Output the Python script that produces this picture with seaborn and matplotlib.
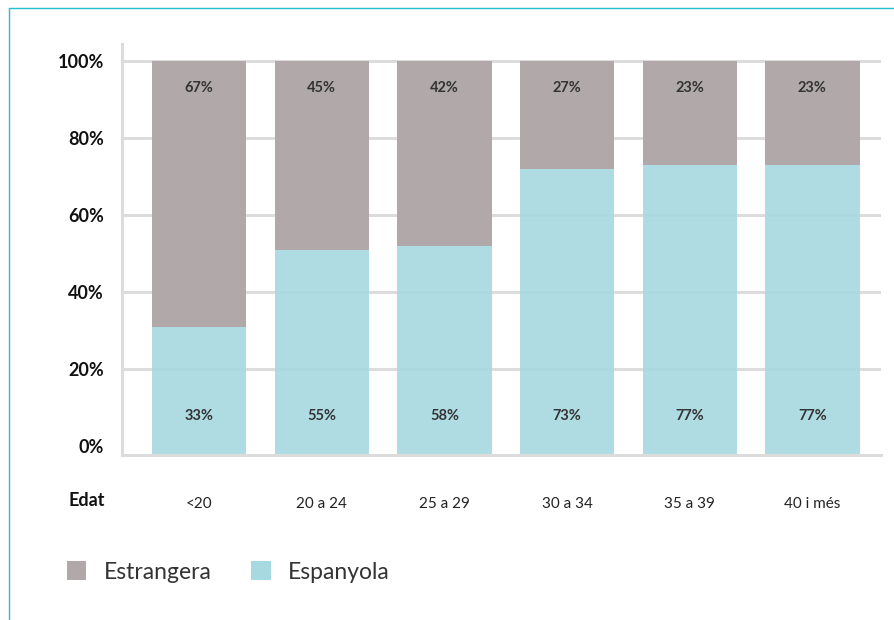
import matplotlib
matplotlib.use("Agg")
import matplotlib.pyplot as plt
import seaborn as sns
import pandas as pd
from matplotlib.patches import Patch
from matplotlib.lines import Line2D

# dades llegides del grafic
edats = ["<20", "20 a 24", "25 a 29", "30 a 34", "35 a 39", "40 i més"]
espanyola = [0.309, 0.509, 0.519, 0.719, 0.730, 0.730]
etiq_espanyola = ["33%", "55%", "58%", "73%", "77%", "77%"]
etiq_estrangera = ["67%", "45%", "42%", "27%", "23%", "23%"]
y_ticks = [0, 0.2, 0.4, 0.6, 0.8, 1.0]
y_labels = ["0%", "20%", "40%", "60%", "80%", "100%"]

col_estr = "#b1a8a9"
col_esp = "#a6d9e0"
col_grid = "#dcdcdc"

sns.set_theme(style="white")
plt.rcParams["font.family"] = ["Lato", "DejaVu Sans"]

df = pd.DataFrame({"edat": edats, "espanyola": espanyola})
df["estrangera"] = 1 - df["espanyola"]

ymin, ymax = -0.0234, 1.044

fig = plt.figure(figsize=(8.94, 6.20), dpi=100)
ax = fig.add_axes([122 / 894, 1 - 455 / 620, (881 - 122) / 894, (455 - 44) / 620])

# espanyola: des de la base de l'eix
sns.barplot(data=df.assign(h=df["espanyola"] - ymin), x="edat", y="h", order=edats,
            color=col_esp, width=0.77, bottom=ymin, alpha=0.9, saturation=1,
            linewidth=0, ax=ax, zorder=3)
# estrangera: apilada a sobre
sns.barplot(data=df, x="edat", y="estrangera", order=edats,
            color=col_estr, width=0.77, bottom=df["espanyola"].values, saturation=1,
            linewidth=0, ax=ax, zorder=2)

for i in range(len(edats)):
    ax.text(i, 0.93, etiq_estrangera[i], ha="center", va="center",
            fontsize=10.5, fontweight="bold", color="#333333", zorder=5)
    ax.text(i, 0.078, etiq_espanyola[i], ha="center", va="center",
            fontsize=10.5, fontweight="bold", color="#333333", zorder=5)

ax.set_ylim(ymin, ymax)
ax.set_xlim(-0.63, 5.56)
ax.set_yticks(y_ticks)
ax.set_yticklabels(y_labels, fontsize=13, fontweight="bold", color="#111111")
ax.set_xticks(range(len(edats)))
ax.set_xticklabels(edats, fontsize=11, color="#222222")
ax.tick_params(axis="y", length=0, pad=13)
ax.tick_params(axis="x", length=0, pad=30)
ax.set_xlabel("")
ax.set_ylabel("")

for y in y_ticks[1:]:
    ax.axhline(y, color=col_grid, lw=2.2, zorder=1)

for s in ["top", "right"]:
    ax.spines[s].set_visible(False)
for s in ["left", "bottom"]:
    ax.spines[s].set_color(col_grid)
    ax.spines[s].set_linewidth(2.2)
    ax.spines[s].set_zorder(4)

fig.text(105 / 894, 1 - 501 / 620, "Edat", ha="right", va="center",
         fontsize=13, fontweight="bold", color="#111111")

handles = [Patch(facecolor=col_estr, edgecolor="none", label="Estrangera"),
           Patch(facecolor=col_esp, edgecolor="none", label="Espanyola")]
fig.legend(handles=handles, loc="center left", bbox_to_anchor=(67 / 894, 1 - 572 / 620),
           ncol=2, frameon=False, fontsize=16.5, borderpad=0, borderaxespad=0,
           handlelength=0.84, handleheight=0.84, handletextpad=0.75,
           columnspacing=1.75, labelcolor="#333333")

# marc cian
fig.add_artist(Line2D([9 / 894, 9 / 894], [0, 1 - 8 / 620], color="#1fc0cf",
                      lw=1.0, transform=fig.transFigure))
fig.add_artist(Line2D([9 / 894, 1], [1 - 8 / 620, 1 - 8 / 620], color="#1fc0cf",
                      lw=1.0, transform=fig.transFigure))

fig.savefig("out.png", dpi=100)
